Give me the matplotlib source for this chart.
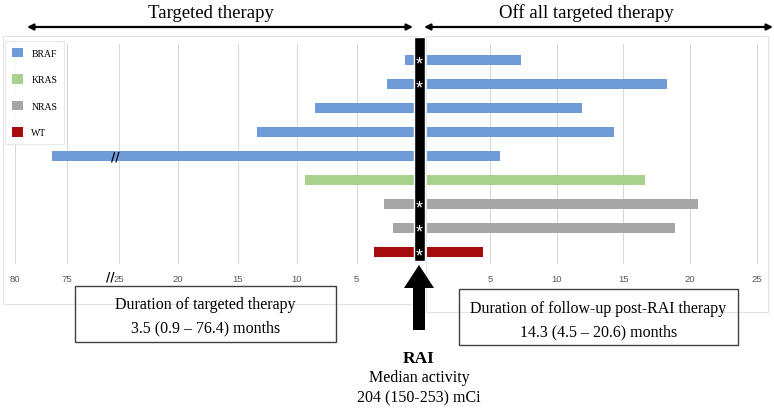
import numpy as np
import matplotlib.pyplot as plt
from matplotlib.patches import Patch, Rectangle, Polygon, FancyArrowPatch

W, H = 774, 414

# one row per patient, top to bottom
mutation = ['BRAF', 'BRAF', 'BRAF', 'BRAF', 'BRAF', 'KRAS', 'NRAS', 'NRAS', 'WT']
months_on = [0.9, 2.4, 8.5, 13.4, 76.4, 9.3, 2.7, 1.9, 3.5]       # targeted therapy
months_off = [7.3, 18.3, 11.9, 14.3, 5.75, 16.6, 20.6, 18.9, 4.5]  # post-RAI follow-up
starred = [True, True, False, False, False, False, True, True, True]

groups = ['BRAF', 'KRAS', 'NRAS', 'WT']
colors = {'BRAF': '#6E9BD6', 'KRAS': '#A9D18E', 'NRAS': '#A6A6A6', 'WT': '#A50D0D'}

left_ticks = [5, 10, 15, 20, 25, 75, 80]
right_ticks = [5, 10, 15, 20, 25]

# broken left axis: 25 -> 75 squeezed
break_vals = [0, 25, 75, 80]
break_pos = [0, 25, 29.33, 33.7]


def brk(v):
    return np.interp(v, break_vals, break_pos)


def rect(x0, y0, x1, y1):
    return [x0 / W, 1 - y1 / H, (x1 - x0) / W, (y1 - y0) / H]


def fp(x, y):
    return (x / W, 1 - y / H)


plt.rcParams['font.family'] = 'Liberation Serif'
fig = plt.figure(figsize=(W / 100, H / 100), dpi=100)

# faint chart frames
fig.patches.append(Rectangle(fp(3, 305), 415 / W, 268 / H, transform=fig.transFigure,
                             fill=False, edgecolor='#E3E3E3', lw=0.8))
fig.patches.append(Rectangle(fp(426, 313), 342 / W, 276 / H, transform=fig.transFigure,
                             fill=False, edgecolor='#E3E3E3', lw=0.8))

rows = np.arange(len(mutation))
cols = [colors[m] for m in mutation]

axL = fig.add_axes(rect(8, 45, 416, 265))
axL.barh(rows, brk(months_on), height=0.42, color=cols)
axL.set_xlim((416 - 8) / 11.9, 0)
axL.set_xticks(brk(left_ticks))
axL.set_xticklabels([str(t) for t in left_ticks])

axR = fig.add_axes(rect(423.3, 45, 765, 265))
axR.barh(rows, months_off, height=0.42, color=cols)
axR.set_xlim(0, (765 - 423.3) / 13.33)
axR.set_xticks(right_ticks)

for ax in (axL, axR):
    ax.set_ylim(8.5, -0.667)
    ax.set_yticks([])
    ax.grid(axis='x', color='#D9D9D9', lw=0.8)
    ax.set_axisbelow(True)
    ax.tick_params(length=0, pad=7, labelsize=6.8, labelcolor='#595959')
    for lab in ax.get_xticklabels():
        lab.set_fontfamily('Liberation Sans')
    for s in ax.spines.values():
        s.set_visible(False)

# axis break marks
fig.text(*fp(110, 277), '//', fontsize=8.5, weight='bold', family='DejaVu Sans',
         ha='center', va='center')
fig.text(*fp(115, 157), '//', fontsize=8.5, weight='bold', family='DejaVu Sans',
         ha='center', va='center')

# RAI bar in the middle
fig.patches.append(Rectangle(fp(413.5, 262), 11 / W, 224 / H, transform=fig.transFigure,
                             facecolor='black', edgecolor='white', lw=1))
for i, s in enumerate(starred):
    if s:
        fig.text(*fp(419.5, 65 + 24 * i), '*', color='white', fontsize=13,
                 family='Liberation Sans', ha='center', va='center')

# arrow pointing up to the bar
arrow_pts = [(419, 266), (404, 289), (413, 289), (413, 331), (425, 331), (425, 289), (434, 289)]
fig.patches.append(Polygon([fp(x, y) for x, y in arrow_pts], closed=True, transform=fig.transFigure,
                           facecolor='black', edgecolor='none'))

# top arrows and headings
for x0, x1 in [(27, 413), (424, 773)]:
    fig.add_artist(FancyArrowPatch(fp(x0, 28), fp(x1, 28), arrowstyle='<|-|>', mutation_scale=9,
                                   lw=1.6, color='black', transform=fig.transFigure,
                                   shrinkA=0, shrinkB=0))
fig.text(*fp(211, 18), 'Targeted therapy', fontsize=13.5, ha='center', va='baseline')
fig.text(*fp(586, 18), 'Off all targeted therapy', fontsize=13.5, ha='center', va='baseline')

# summary boxes
fig.patches.append(Rectangle(fp(75, 343), 261 / W, 56 / H, transform=fig.transFigure,
                             fill=False, edgecolor='#404040', lw=1))
fig.text(*fp(205.5, 305), 'Duration of targeted therapy', fontsize=11.5, ha='center', va='center')
fig.text(*fp(205.5, 328), '3.5 (0.9 \u2013 76.4) months', fontsize=11.5, ha='center', va='center')

fig.patches.append(Rectangle(fp(459, 346), 279 / W, 56 / H, transform=fig.transFigure,
                             fill=False, edgecolor='#404040', lw=1))
fig.text(*fp(598.5, 309), 'Duration of follow-up post-RAI therapy', fontsize=11.5, ha='center', va='center')
fig.text(*fp(598.5, 332), '14.3 (4.5 \u2013 20.6) months', fontsize=11.5, ha='center', va='center')

fig.text(*fp(419, 359), 'RAI', fontsize=12.5, weight='bold', ha='center', va='center')
fig.text(*fp(419, 378), 'Median activity', fontsize=11.5, ha='center', va='center')
fig.text(*fp(419, 398), '204 (150-253) mCi', fontsize=11.5, ha='center', va='center')

handles = [Patch(facecolor=colors[g]) for g in groups]
leg = fig.legend(handles, groups, loc='upper left', bbox_to_anchor=fp(5, 42), fontsize=7,
                 handlelength=1.1, handleheight=1.1, labelspacing=1.7, handletextpad=0.9,
                 fancybox=False, edgecolor='#E3E3E3', borderpad=0.7, borderaxespad=0)
leg.get_frame().set_linewidth(0.8)

fig.savefig('out.png', dpi=100)
